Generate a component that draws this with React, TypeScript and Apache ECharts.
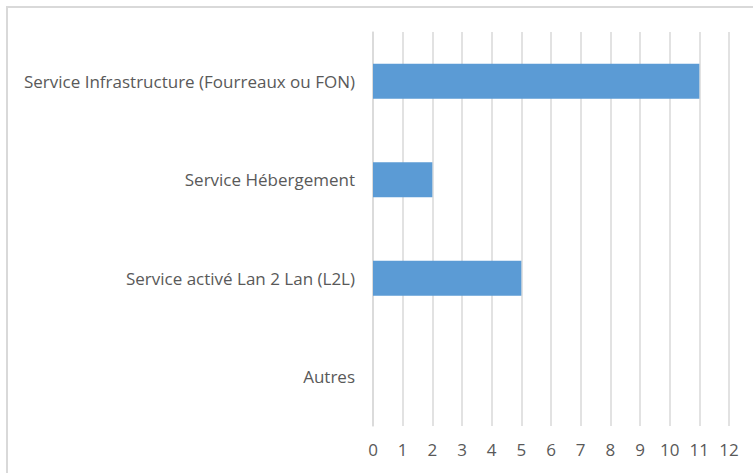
import React, { useEffect, useRef } from "react";
import * as echarts from "echarts";

const categories = [
  "Service Infrastructure (Fourreaux ou FON)",
  "Service Hébergement",
  "Service activé Lan 2 Lan (L2L)",
  "Autres",
];
const values = [11, 2, 5, 0];
const xTicks = { min: 0, max: 12, interval: 1 };

export default function App() {
  const ref = useRef<HTMLDivElement>(null);
  useEffect(() => {
    if (!ref.current) return;
    const chart = echarts.init(ref.current, undefined, { renderer: "svg" });
    chart.setOption({
      animation: false,
      backgroundColor: "#ffffff",
      textStyle: { fontFamily: "Open Sans" },
      graphic: [
        {
          type: "rect",
          shape: { x: 7, y: 7, width: 800, height: 500 },
          style: { fill: "none", stroke: "#d9d9d9", lineWidth: 2 },
          silent: true,
        },
      ],
      grid: { left: 373, right: 24, top: 32, bottom: 47, containLabel: false },
      xAxis: {
        type: "value",
        min: xTicks.min,
        max: xTicks.max,
        interval: xTicks.interval,
        axisLine: { show: false },
        axisTick: { show: false },
        splitLine: { show: true, lineStyle: { color: "#d9d9d9", width: 1.5 } },
        axisLabel: { color: "#595959", fontSize: 17, margin: 15, fontFamily: "Open Sans" },
      },
      yAxis: {
        type: "category",
        inverse: true,
        data: categories,
        axisLine: { show: true, lineStyle: { color: "#d9d9d9", width: 1.5 } },
        axisTick: { show: false },
        axisLabel: { color: "#595959", fontSize: 17, margin: 18, fontFamily: "Open Sans" },
      },
      series: [
        {
          type: "bar",
          data: values,
          barWidth: 35,
          itemStyle: { color: "#5b9bd5" },
        },
      ],
    });
    return () => chart.dispose();
  }, []);
  return (
    <div
      ref={ref}
      style={{ position: "fixed", left: 0, top: 0, width: 753, height: 473 }}
    />
  );
}
